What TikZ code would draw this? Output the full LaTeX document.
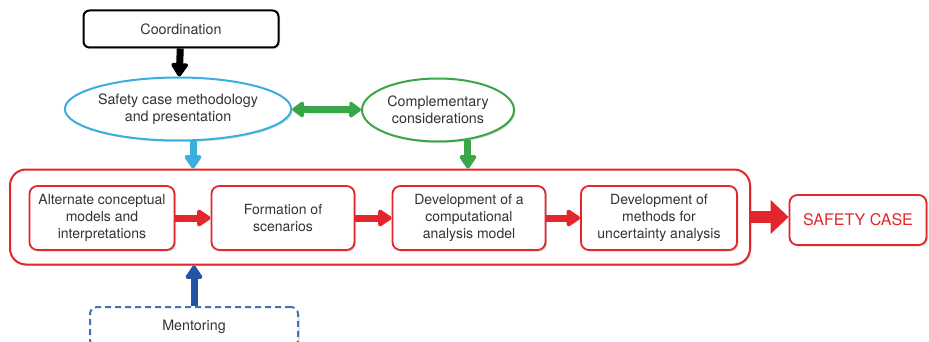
\documentclass[tikz,border=0pt]{standalone}
\usepackage{fontspec}
\setmainfont{TeX Gyre Heros}
\usetikzlibrary{shapes.geometric, arrows.meta, positioning, shadows}
\definecolor{caseRed}{HTML}{E3262B}
\definecolor{caseBlue}{HTML}{3AAEE0}
\definecolor{caseGreen}{HTML}{3BA647}
\definecolor{caseNavy}{HTML}{2555A0}
\definecolor{caseDash}{HTML}{4470B8}
\definecolor{caseText}{HTML}{333333}
\tikzset{
    objShadow/.style={drop shadow={shadow xshift=1.5pt, shadow yshift=-1.5pt, opacity=0.3}},
    objRoundRectangle/.style={rectangle, rounded corners=8pt, minimum width=145pt, minimum height=64pt, inner sep=1pt, align=center, draw=caseRed, line width=1.8pt, fill=white, text=caseText, font=\fontsize{14}{17}\selectfont, objShadow},
    objEllipse/.style={ellipse, minimum height=63pt, inner sep=0pt, align=center, line width=2pt, fill=white, text=caseText, font=\fontsize{14.3}{17}\selectfont, objShadow},
    arrow/.style={line width=7pt, -{Triangle[round, length=15pt, width=19pt]}},
    bigArrow/.style={line width=12pt, -{Triangle[length=18pt, width=33pt]}}
}

\begin{document}
\begin{tikzpicture}[x=1pt, y=-1pt]
    \useasboundingbox (0,0) rectangle (929,342);

    \node (001) [rectangle, rounded corners=6pt, minimum width=195pt, minimum height=37pt, draw=black, line width=2pt, fill=white, text=caseText, font=\fontsize{14.3}{17}\selectfont, objShadow] at (181,29) {Coordination};
    \node (002) [objEllipse, draw=caseBlue, minimum width=190pt] at (178,109) {Safety case methodology\\and presentation};
    \node (003) [objEllipse, draw=caseGreen, minimum width=152pt] at (438,110) {Complementary\\considerations};

    \node (010) [rectangle, rounded corners=16pt, minimum width=740pt, minimum height=95pt, draw=caseRed, line width=2pt, fill=white, objShadow] at (380,217) {};

    \node (004) [objRoundRectangle] at (102,218) {Alternate conceptual\\models and\\interpretations};
    \node (005) [objRoundRectangle, minimum width=143pt] at (283,218) {Formation of\\scenarios};
    \node (006) [objRoundRectangle, minimum width=153pt] at (469,218) {Development of a\\computational\\analysis model};
    \node (007) [objRoundRectangle, minimum width=156pt] at (659,218) {Development of\\methods for\\uncertainty analysis};

    \node (008) [objRoundRectangle, minimum width=137pt, minimum height=50pt, text=caseRed, font=\fontsize{16}{18}\selectfont] at (858,220) {SAFETY CASE};
    \node (009) [rectangle, rounded corners=7pt, minimum width=208pt, minimum height=40pt, draw=caseDash, dashed, dash pattern=on 6pt off 4pt, line width=2pt, fill=white, text=caseText, font=\fontsize{14.3}{17}\selectfont, objShadow] at (194,327) {Mentoring};

    \draw [arrow, black] (001) -- (002);
    \draw [arrow, caseGreen, {Triangle[round, length=13pt, width=18pt]}-{Triangle[round, length=13pt, width=18pt]}] (002) -- (003);
    \draw [arrow, caseBlue] (002.-65) -- (002.-65 |- 010.north);
    \draw [arrow, caseGreen] (003.-45) -- (003.-45 |- 010.north);
    \draw [arrow, caseNavy] (009.north) -- (009.north |- 010.south);

    \draw [arrow, caseRed] (004) -- (005);
    \draw [arrow, caseRed] (005) -- (006);
    \draw [arrow, caseRed] (006) -- (007);
    \draw [bigArrow, caseRed] (010.east) -- (010.east -| 008.west);

\end{tikzpicture}
\end{document}
